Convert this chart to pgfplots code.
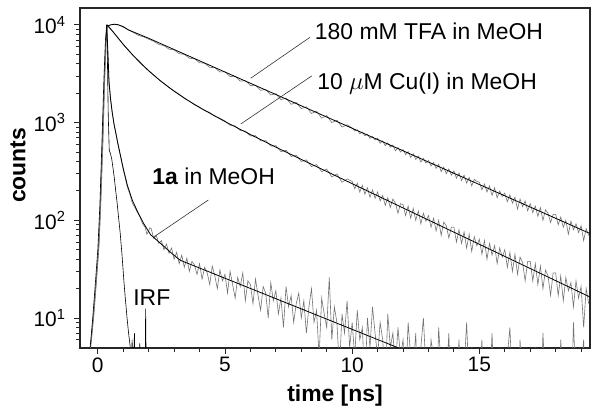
\documentclass[border=0pt]{standalone}
\usepackage{pgfplots}
\pgfplotsset{compat=1.18}
\usepackage{fontspec}
\setmainfont{Liberation Sans}
\begin{document}
\begin{tikzpicture}
\begin{axis}[
  scale only axis, width=510bp, height=340bp,
  xmin=-0.7, xmax=19.35,
  ymode=log, ymin=4.93, ymax=14900,
  xtick={0,5,10,15},
  minor xtick={1,2,3,4,6,7,8,9,11,12,13,14,16,17,18,19},
  ytick={10,100,1000,10000},
  yticklabels={10\textsuperscript{1},10\textsuperscript{2},10\textsuperscript{3},10\textsuperscript{4}},
  minor ytick={6,7,8,9,20,30,40,50,60,70,80,90,200,300,400,500,600,700,800,900,2000,3000,4000,5000,6000,7000,8000,9000},
  /pgf/number format/assume math mode=true,
  tick pos=left, tick align=outside,
  major tick length=6bp, minor tick length=4bp,
  every tick/.style={black!85, line width=0.9bp},
  axis line style={line width=1.1bp, black!85},
  tick label style={font=\fontsize{21}{24}\selectfont},
  yticklabel style={xshift=-5bp},
  xlabel={\textbf{time [ns]}}, ylabel={\textbf{counts}},
  every axis x label/.style={at={(axis description cs:0.5,-0.156)}, anchor=base, font=\fontsize{23}{26}\selectfont\bfseries},
  every axis y label/.style={at={(axis description cs:-0.107,0.537)}, rotate=90, anchor=base, font=\fontsize{23}{26}\selectfont\bfseries},
]
% ---- measured data (grey) ----
\addplot[black!55, line width=0.6bp] coordinates {
(-0.33,4) (-0.25,6) (-0.15,12) (-0.05,26) (0.05,60) (0.12,170) (0.2,700) (0.27,3000) (0.33,8000) (0.37,9500) (0.45,9900) (0.55,10100) (0.65,10200) (0.75,10100) (0.85,9900) (1.0,9500) (1.2,8900) (1.4,8350) (1.6,7800) (1.8,7550) (2.0,7150) (2.2,6800) (2.4,6300) (2.6,6150) (2.8,5650) (3.0,5550) (3.2,5080) (3.4,5000) (3.6,4560) (3.8,4500) (4.0,4100) (4.2,4060) (4.4,3680) (4.6,3650) (4.8,3300) (5.0,3310) (5.2,2960) (5.4,2980) (5.6,2660) (5.8,2690) (6.0,2390) (6.2,2420) (6.4,2140) (6.6,2190) (6.8,1920) (7.0,1980) (7.2,1720) (7.4,1780) (7.6,1540) (7.8,1610) (8.0,1390) (8.2,1450) (8.4,1240) (8.6,1310) (8.8,1110) (9.0,1180) (9.2,1000) (9.4,1060) (9.6,900) (9.8,950)
(10.0,880) (10.1,820) (10.2,845) (10.3,770) (10.4,800) (10.5,735) (10.6,760) (10.7,690) (10.8,720) (10.9,665)
(11.0,690) (11.1,615) (11.2,650) (11.3,580) (11.4,620) (11.5,560) (11.6,590) (11.7,515) (11.8,555) (11.9,500)
(12.0,530) (12.1,470) (12.2,505) (12.3,440) (12.4,480) (12.5,420) (12.6,455) (12.7,395) (12.8,430) (12.9,385)
(13.0,410) (13.1,360) (13.2,390) (13.3,340) (13.4,375) (13.5,315) (13.6,350) (13.7,300) (13.8,335) (13.9,290)
(14.0,320) (14.1,270) (14.2,305) (14.3,255) (14.4,290) (14.5,240) (14.6,275) (14.7,225) (14.8,262) (14.9,250)
(15.0,245) (15.1,205) (15.2,235) (15.3,195) (15.4,225) (15.5,180) (15.6,215) (15.7,170) (15.8,200) (15.9,175)
(16.0,190) (16.1,155) (16.2,182) (16.3,150) (16.4,172) (16.5,130) (16.6,165) (16.7,138) (16.8,158) (16.9,125)
(17.0,148) (17.1,120) (17.2,140) (17.3,110) (17.4,135) (17.5,100) (17.6,128) (17.7,118) (17.8,95) (17.9,115)
(18.0,115) (18.1,90) (18.2,108) (18.3,85) (18.4,100) (18.5,72) (18.6,98) (18.7,80) (18.8,92) (18.9,75)
(19.0,88) (19.1,62) (19.2,82) (19.3,70)
};
\addplot[black!55, line width=0.6bp] coordinates {
(-0.3,5) (-0.2,9) (-0.1,18) (0,40) (0.08,110) (0.16,450) (0.24,2000) (0.31,6500) (0.36,10000) (0.45,9300) (0.6,8500) (0.8,7350) (1.0,6300) (1.2,5550) (1.4,4850) (1.6,4340) (1.8,3820) (2.0,3420) (2.2,3060) (2.4,2760) (2.6,2520) (2.8,2280) (3.0,2110) (3.2,1950) (3.4,1770) (3.6,1660) (3.8,1520) (4.0,1440) (4.2,1330) (4.4,1270) (4.6,1160) (4.8,1110) (5.0,1040) (5.2,940) (5.4,925) (5.6,830) (5.8,820) (6.0,730) (6.2,735) (6.4,650) (6.6,655) (6.8,575) (7.0,580) (7.2,505) (7.4,520) (7.6,450) (7.8,465) (8.0,400) (8.2,415) (8.4,355) (8.6,372) (8.8,315) (9.0,335) (9.2,278) (9.4,298) (9.6,245) (9.8,265)
(10.0,250) (10.1,210) (10.2,240) (10.3,195) (10.4,228) (10.5,185) (10.6,215) (10.7,172) (10.8,205) (10.9,168)
(11.0,195) (11.1,158) (11.2,180) (11.3,142) (11.4,170) (11.5,135) (11.6,165) (11.7,150) (11.8,118) (11.9,148)
(12.0,145) (12.1,112) (12.2,140) (12.3,105) (12.4,132) (12.5,100) (12.6,125) (12.7,92) (12.8,118) (12.9,98)
(13.0,112) (13.1,85) (13.2,105) (13.3,78) (13.4,100) (13.5,70) (13.6,96) (13.7,88) (13.8,66) (13.9,85)
(14.0,85) (14.1,60) (14.2,80) (14.3,58) (14.4,76) (14.5,52) (14.6,72) (14.7,48) (14.8,68) (14.9,55)
(15.0,64) (15.1,45) (15.2,62) (15.3,40) (15.4,58) (15.5,44) (15.6,55) (15.7,36) (15.8,52) (15.9,42)
(16.0,50) (16.1,33) (16.2,47) (16.3,30) (16.4,45) (16.5,28) (16.6,42) (16.7,37) (16.8,24) (16.9,38)
(17.0,38) (17.1,24) (17.2,36) (17.3,22) (17.4,34) (17.5,20) (17.6,31) (17.7,27) (17.8,17) (17.9,29)
(18.0,29) (18.1,17) (18.2,27) (18.3,15) (18.4,26) (18.5,19) (18.6,23) (18.7,13) (18.8,24) (18.9,16)
(19.0,21) (19.1,8) (19.2,20) (19.3,14)
};
\addplot[black!55, line width=0.6bp] coordinates {
(-0.32,4) (-0.25,6) (-0.15,11) (-0.05,24) (0.05,55) (0.12,150) (0.2,600) (0.27,2600) (0.35,10000) (0.4,4500) (0.44,2600) (0.5,1800) (0.56,1300) (0.64,960) (0.7,820) (0.77,640) (0.84,520) (0.9,440) (1.0,330) (1.08,270) (1.16,220) (1.26,185) (1.36,150) (1.46,135) (1.56,120) (1.66,108) (1.76,92) (1.86,85) (1.93,72)
(2.0,78) (2.05,84) (2.1,82) (2.2,65) (2.3,70) (2.4,58) (2.5,62) (2.6,50) (2.7,57) (2.8,46) (2.9,52)
(3.0,40) (3.1,47) (3.2,36) (3.3,44) (3.4,33) (3.5,41) (3.6,30) (3.7,38) (3.8,35) (3.9,28)
(4.0,36) (4.1,25) (4.2,33) (4.3,29) (4.4,22) (4.5,34) (4.6,27) (4.7,20) (4.8,31) (4.9,24)
(5.0,28) (5.1,18) (5.2,30) (5.3,22) (5.4,16) (5.5,26) (5.6,21) (5.7,29) (5.8,15) (5.9,24)
(6.0,22) (6.1,14) (6.2,25) (6.3,17) (6.4,12) (6.5,21) (6.6,18) (6.7,10) (6.8,23) (6.9,15)
(7.0,19) (7.1,11) (7.2,16) (7.3,8) (7.4,21) (7.5,13) (7.6,17) (7.7,9) (7.8,14) (7.9,18)
(8.0,10) (8.1,15) (8.2,7) (8.3,13) (8.4,20) (8.5,9) (8.6,12) (8.7,4) (8.8,16) (8.9,11)
(9.0,8) (9.1,26) (9.2,6) (9.3,13) (9.4,9) (9.5,3) (9.6,11) (9.7,7) (9.8,15) (9.9,5)
(10.0,9) (10.1,4) (10.2,12) (10.3,6) (10.4,8) (10.5,2) (10.6,10) (10.7,5) (10.8,13) (10.9,7)
(11.0,4) (11.1,9) (11.2,6) (11.3,2) (11.4,11) (11.5,5) (11.6,7) (11.7,3) (11.8,8) (11.9,4)
(12.0,6) (12.1,2) (12.2,9) (12.3,4) (12.4,3) (12.5,7) (12.6,1) (12.7,5) (12.8,10) (12.9,3)
(13.0,2) (13.1,6) (13.2,4) (13.3,1) (13.4,8) (13.5,3) (13.6,5) (13.7,2) (13.8,7) (13.9,1)
(14.0,4) (14.1,2) (14.2,6) (14.3,1) (14.4,3) (14.5,9) (14.6,2) (14.7,5) (14.8,1) (14.9,3)
(15.0,2) (15.1,6) (15.2,1) (15.3,4) (15.4,2) (15.5,7) (15.6,1) (15.7,3) (15.8,5) (15.9,2)
(16.0,1) (16.1,4) (16.2,8) (16.3,2) (16.4,3) (16.5,1) (16.6,6) (16.7,2) (16.8,1) (16.9,4)
(17.0,2) (17.1,1) (17.2,5) (17.3,3) (17.4,1) (17.5,7) (17.6,2) (17.7,1) (17.8,4) (17.9,1)
(18.0,3) (18.1,1) (18.2,6) (18.3,2) (18.4,1) (18.5,4) (18.6,1) (18.7,9) (18.8,2) (18.9,1)
(19.0,3) (19.1,6) (19.2,1) (19.3,2)
};
% ---- IRF ----
\addplot[black, line width=0.6bp] coordinates {
(-0.3,5) (-0.2,10) (-0.1,22) (0,50) (0.08,140) (0.16,600) (0.24,2800) (0.3,7000) (0.35,10000) (0.38,4000) (0.41,1200) (0.45,520) (0.5,480) (0.55,420) (0.6,340) (0.65,270) (0.7,205) (0.76,150) (0.82,105) (0.88,74) (0.95,45) (1.02,25) (1.08,16) (1.15,10) (1.21,7) (1.27,5.2) (1.31,3) (1.35,6) (1.38,2) (1.44,7) (1.48,2) (1.55,1) (1.62,1) (1.65,5.5) (1.7,1) (1.85,1) (1.88,12.5) (1.92,1) (2.2,1)
};
% ---- fits (black) ----
\addplot[black, line width=0.8bp] coordinates {
(0.37,9700) (0.5,10000) (0.65,10150) (0.8,10050) (1.0,9600) (1.2,8900) (2.0,7300) (19.35,73.3)
};
\addplot[black, line width=0.8bp] coordinates {
(0.37,10000) (0.6,8511) (0.8,7315) (1.0,6326) (1.2,5512) (1.4,4832) (1.7,4019) (2.0,3390) (2.5,2626) (3.0,2097) (3.5,1716) (4,1428) (5,1025) (6,755) (7,561) (8,420) (9,316) (10,237) (19.35,16.4)
};
\addplot[black, line width=0.8bp] coordinates {
(0.35,10000) (0.4,5000) (0.44,2630) (0.5,1750) (0.57,1250) (0.64,955) (0.77,646) (0.9,450) (1.0,340) (1.16,230) (1.36,160) (1.56,123) (1.8,93) (2.08,71) (2.5,57) (2.9,46) (3.24,39) (12.3,4.4)
};
% ---- annotations ----
\draw[black!80, line width=0.6bp] (axis cs:6.01,2846) -- (axis cs:8.345,7482);
\draw[black!80, line width=0.6bp] (axis cs:5.62,968) -- (axis cs:8.41,3006);
\draw[black!80, line width=0.6bp] (axis cs:2.186,67.1) -- (axis cs:4.347,161.5);
\node[anchor=base west, inner sep=0pt, font=\fontsize{23}{26}\selectfont] at (axis cs:8.53,7140) {180 mM TFA in MeOH};
\node[anchor=base west, inner sep=0pt, font=\fontsize{23}{26}\selectfont] at (axis cs:8.62,2198) {10 $\mu$M Cu(I) in MeOH};
\node[anchor=base west, inner sep=0pt, font=\fontsize{23}{26}\selectfont] at (axis cs:2.14,230) {\textbf{1a} in MeOH};
\node[anchor=base west, inner sep=0pt, font=\fontsize{23}{26}\selectfont] at (axis cs:1.39,13.4) {IRF};
\end{axis}
\pgfresetboundingbox
\path[use as bounding box] ([xshift=-80bp,yshift=-62bp]current axis.south west) rectangle ([xshift=11bp,yshift=8bp]current axis.north east);
\end{tikzpicture}
\end{document}
